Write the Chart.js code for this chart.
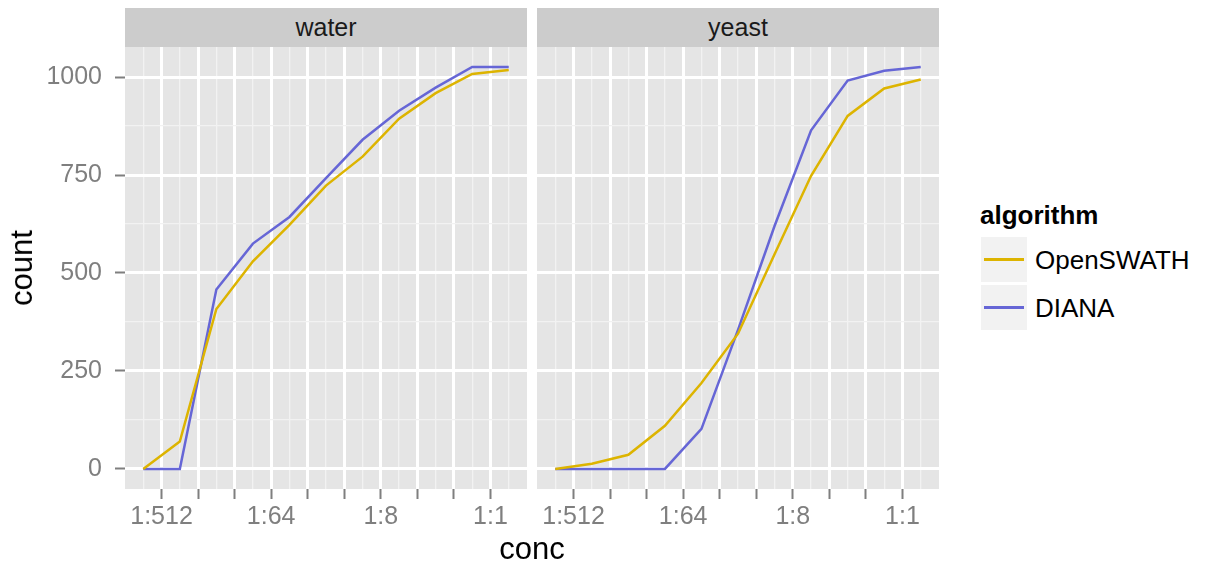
<!DOCTYPE html>
<html>
<head>
<meta charset="utf-8">
<script src="https://cdn.jsdelivr.net/npm/chart.js@4/dist/chart.umd.min.js"></script>
<style>
html,body{margin:0;padding:0;background:#fff;width:1208px;height:571px;overflow:hidden;font-family:'Liberation Sans',Arial,Helvetica,sans-serif;}
#wrap{position:relative;width:1208px;height:571px;}
canvas{position:absolute;top:0;}
.strip{position:absolute;top:8px;height:39px;background:#CCCCCC;color:#1a1a1a;font-size:25px;text-align:center;line-height:39px;}
.ytitle{position:absolute;left:22px;top:268px;transform:translate(-50%,-50%) rotate(-90deg);font-size:31px;color:#000;white-space:nowrap;}
.xtitle{position:absolute;left:532px;top:549px;transform:translate(-50%,-50%);font-size:31px;color:#000;white-space:nowrap;}
.legtitle{position:absolute;left:980px;top:200px;font-size:26px;font-weight:bold;color:#000;}
.key{position:absolute;left:981px;width:46px;height:45px;background:#F2F2F2;}
.key span{position:absolute;left:3px;width:40px;height:2.5px;top:21px;}
.legtext{position:absolute;left:1035px;font-size:26px;color:#000;line-height:30px;}
</style>
</head>
<body>
<div id="wrap">
  <canvas id="cWater" width="527" height="571" style="left:0px"></canvas>
  <canvas id="cYeast" width="409" height="571" style="left:530px"></canvas>
  <div class="strip" id="sWater" style="left:125px;width:402px"></div>
  <div class="strip" id="sYeast" style="left:537px;width:402px"></div>
  <div class="ytitle" id="yTitle"></div>
  <div class="xtitle" id="xTitle"></div>
  <div class="legtitle" id="legTitle"></div>
  <div class="key" style="top:237px"><span id="k0"></span></div>
  <div class="key" style="top:285px"><span id="k1"></span></div>
  <div class="legtext" id="l0" style="top:245px"></div>
  <div class="legtext" id="l1" style="top:293px"></div>
</div>
<script>
// ---- data (x in log2 units of dilution) ----
const panels = ['water', 'yeast'];
const algorithms = ['OpenSWATH', 'DIANA'];
const concPos = [-9.5, -8.5, -7.5, -6.5, -5.5, -4.5, -3.5, -2.5, -1.5, -0.5, 0.5];
const waterOpenSWATH = [0, 70, 408, 530, 623, 723, 797, 894, 959, 1008, 1018];
const waterDIANA     = [0, 0, 458, 575, 643, 742, 840, 914, 973, 1026, 1026];
const yeastOpenSWATH = [0, 13, 36, 110, 219, 345, 548, 748, 901, 971, 994];
const yeastDIANA     = [0, 0, 0, 0, 102, 355, 620, 864, 991, 1016, 1026];
const xBreaks = [-9, -8, -7, -6, -5, -4, -3, -2, -1, 0];
const xBreakLabels = ['1:512', '', '', '1:64', '', '', '1:8', '', '', '1:1'];
const xMinor = [-9.5, -8.5, -7.5, -6.5, -5.5, -4.5, -3.5, -2.5, -1.5, -0.5, 0.5];
const yBreaks = [0, 250, 500, 750, 1000];
const yMinor = [125, 375, 625, 875];
const seriesColors = ['#DDB400', '#6666D6'];
const xTitleText = 'conc';
const yTitleText = 'count';
const legendTitleText = 'algorithm';

// ---- text ----
document.getElementById('sWater').textContent = panels[0];
document.getElementById('sYeast').textContent = panels[1];
document.getElementById('xTitle').textContent = xTitleText;
document.getElementById('yTitle').textContent = yTitleText;
document.getElementById('legTitle').textContent = legendTitleText;
document.getElementById('l0').textContent = algorithms[0];
document.getElementById('l1').textContent = algorithms[1];
document.getElementById('k0').style.background = seriesColors[0];
document.getElementById('k1').style.background = seriesColors[1];

const FONT = "'Liberation Sans', Arial, Helvetica, sans-serif";
const TICKGREY = '#7F7F7F';

const panelBg = {
  id: 'panelBg',
  beforeDraw(chart) {
    const a = chart.chartArea, ctx = chart.ctx;
    ctx.save();
    ctx.fillStyle = '#E5E5E5';
    ctx.fillRect(a.left, a.top, a.right - a.left, a.bottom - a.top);
    ctx.restore();
  }
};

function isMajor(ctx, list) {
  return ctx.tick && list.indexOf(ctx.tick.value) >= 0;
}

function makeChart(id, ySeries, showY) {
  const datasets = algorithms.map((name, i) => ({
    label: name,
    data: concPos.map((x, k) => ({ x: x, y: ySeries[i][k] })),
    borderColor: seriesColors[i],
    backgroundColor: seriesColors[i],
    borderWidth: 2.5,
    pointRadius: 0,
    tension: 0,
    fill: false
  }));
  return new Chart(document.getElementById(id), {
    type: 'line',
    data: { datasets },
    plugins: [panelBg],
    options: {
      responsive: false,
      animation: false,
      devicePixelRatio: 1,
      layout: { padding: { top: 47, left: 0, right: 0, bottom: 0 } },
      plugins: { legend: { display: false }, tooltip: { enabled: false } },
      scales: {
        x: {
          type: 'linear',
          min: -10,
          max: 1,
          afterBuildTicks: (s) => {
            s.ticks = xBreaks.concat(xMinor).sort((a, b) => a - b).map(v => ({ value: v }));
          },
          afterFit: (s) => { s.height = 82; },
          border: { display: false },
          grid: {
            color: (c) => isMajor(c, xBreaks) ? '#FFFFFF' : '#F2F2F2',
            lineWidth: (c) => isMajor(c, xBreaks) ? 3 : 1.3,
            tickColor: (c) => isMajor(c, xBreaks) ? TICKGREY : 'rgba(0,0,0,0)',
            tickWidth: 2,
            tickLength: 10,
            drawTicks: true
          },
          ticks: {
            autoSkip: false,
            maxRotation: 0,
            minRotation: 0,
            padding: 3,
            color: TICKGREY,
            font: { family: FONT, size: 25 },
            callback: (v) => { const i = xBreaks.indexOf(v); return i >= 0 ? xBreakLabels[i] : ''; }
          }
        },
        y: {
          type: 'linear',
          min: -51.3,
          max: 1076.8,
          afterBuildTicks: (s) => {
            s.ticks = yBreaks.concat(yMinor).sort((a, b) => a - b).map(v => ({ value: v }));
          },
          afterFit: (s) => { s.width = showY ? 125 : 7; },
          border: { display: false },
          grid: {
            color: (c) => isMajor(c, yBreaks) ? '#FFFFFF' : '#F2F2F2',
            lineWidth: (c) => isMajor(c, yBreaks) ? 3 : 1.3,
            tickColor: (c) => (showY && isMajor(c, yBreaks)) ? TICKGREY : 'rgba(0,0,0,0)',
            tickWidth: 2,
            tickLength: 10,
            drawTicks: showY
          },
          ticks: {
            display: showY,
            autoSkip: false,
            padding: 13,
            color: TICKGREY,
            font: { family: FONT, size: 25 },
            callback: (v) => yBreaks.indexOf(v) >= 0 ? String(v) : ''
          }
        }
      }
    }
  });
}

makeChart('cWater', [waterOpenSWATH, waterDIANA], true);
makeChart('cYeast', [yeastOpenSWATH, yeastDIANA], false);
</script>
</body>
</html>
